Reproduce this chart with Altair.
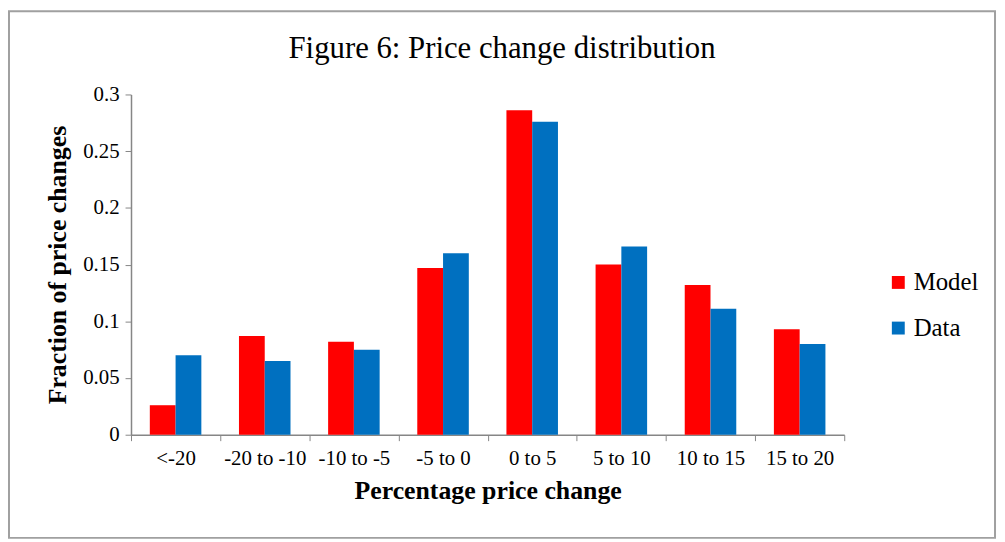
import altair as alt
import pandas as pd

categories = ["<-20", "-20 to -10", "-10 to -5", "-5 to 0", "0 to 5", "5 to 10", "10 to 15", "15 to 20"]
model = [0.026, 0.087, 0.082, 0.147, 0.286, 0.150, 0.132, 0.093]
data_vals = [0.070, 0.065, 0.075, 0.160, 0.276, 0.166, 0.111, 0.080]
series = ["Model", "Data"]
colors = ["#FF0000", "#0070C0"]
title_text = "Figure 6: Price change distribution"

rows = []
for c, m, d in zip(categories, model, data_vals):
    rows.append({"cat": c, "series": "Model", "value": m})
    rows.append({"cat": c, "series": "Data", "value": d})
df = pd.DataFrame(rows)

FONT = "Liberation Serif"
W, H = 719, 343

bars = alt.Chart(df).mark_bar().encode(
    x=alt.X("cat:N", sort=categories,
            scale=alt.Scale(paddingInner=0, paddingOuter=0),
            axis=alt.Axis(title="Percentage price change", labelAngle=0, tickBand="extent",
                          labelFontSize=21, titleFontSize=26, titleFontWeight="bold",
                          labelPadding=7, titlePadding=9, tickSize=6)),
    xOffset=alt.XOffset("series:N", sort=series, scale=alt.Scale(paddingInner=0, paddingOuter=0.73)),
    y=alt.Y("value:Q", scale=alt.Scale(domain=[0, 0.3], nice=False),
            axis=alt.Axis(title="Fraction of price changes", values=[0, 0.05, 0.1, 0.15, 0.2, 0.25, 0.3],
                          format="~g", grid=False, labelFontSize=21, titleFontSize=26,
                          titleFontWeight="bold", tickSize=6, labelPadding=6, titlePadding=12)),
    color=alt.Color("series:N", sort=series, scale=alt.Scale(domain=series, range=colors),
                    legend=alt.Legend(title=None, orient="none", legendX=761, legendY=177,
                                      symbolType="square", symbolSize=169, labelFontSize=25,
                                      rowPadding=20, symbolStrokeWidth=0, labelOffset=3)),
)

one = pd.DataFrame({"a": [0]})

frame = alt.Chart(one).mark_rect(
    fill=None, stroke="#a0a0a0", strokeWidth=2
).encode(x=alt.value(-123), x2=alt.value(W + 152), y=alt.value(-84), y2=alt.value(H + 104))

title = alt.Chart(one).mark_text(
    font=FONT, fontSize=31, color="#000000", align="center", baseline="alphabetic"
).encode(x=alt.value(374), y=alt.value(-37), text=alt.value(title_text))

chart = alt.layer(frame, bars, title).properties(
    width=W, height=H,
    padding={"left": 124, "top": 85, "right": 154, "bottom": 106},
    autosize=alt.AutoSizeParams(type="none"),
).configure(font=FONT).configure_axis(
    domainColor="#868686", tickColor="#868686", labelColor="#000000", titleColor="#000000",
    labelFont=FONT, titleFont=FONT, domainWidth=1.5,
).configure_legend(labelFont=FONT, labelColor="#000000").configure_view(stroke=None)

chart.save("out.html", embed_options={"renderer": "svg", "actions": False})
